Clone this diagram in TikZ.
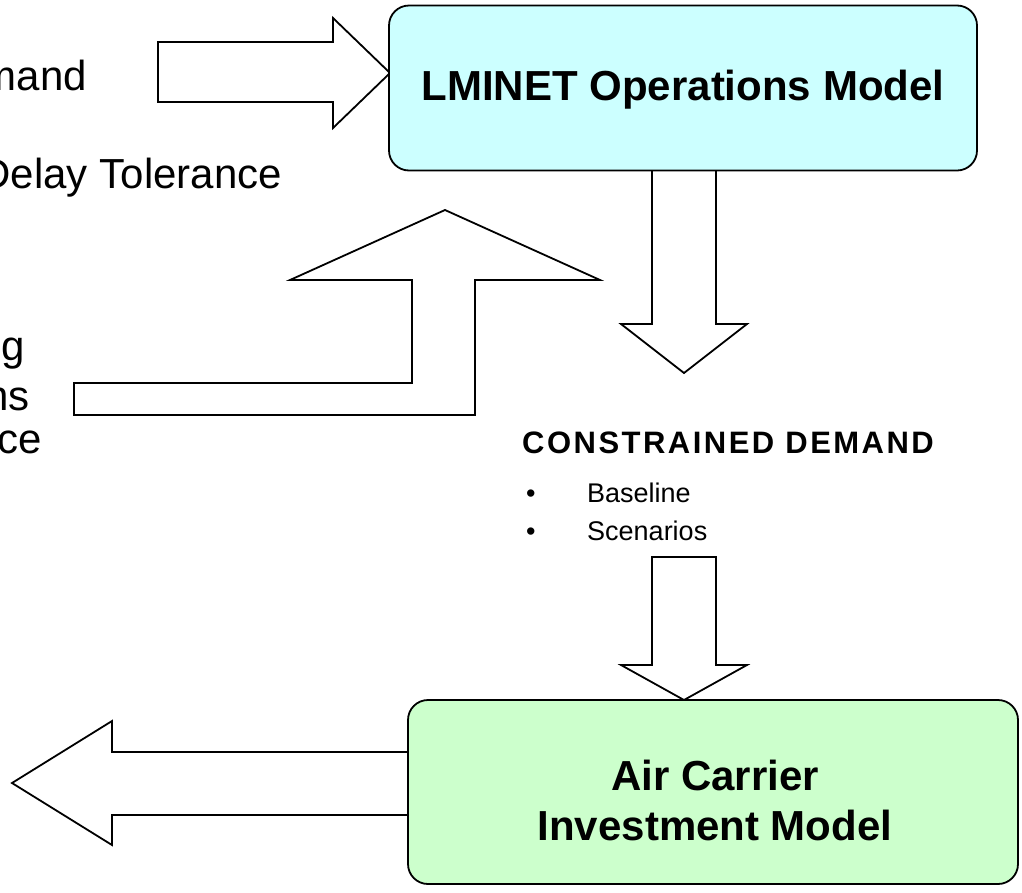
\documentclass[tikz,border=0pt]{standalone}
\usepackage{fontspec}
\setmainfont{Liberation Sans}
\newfontfamily\trackedfont[LetterSpace=8.0]{Liberation Sans}
\definecolor{opsfill}{HTML}{CCFFFF}
\definecolor{invfill}{HTML}{CCFFCC}
\tikzset{
  blockarrow/.style={draw, line width=1.8pt, fill=white, line join=miter},
  modelbox/.style={draw, line width=1.8pt, rounded corners=20pt},
  modeltext/.style={inner sep=0pt, align=center, font=\fontsize{42}{50}\selectfont\bfseries},
  cuttext/.style={inner sep=0pt, anchor=base east, font=\fontsize{42}{48}\selectfont},
  listtext/.style={inner sep=0pt, anchor=base west, font=\fontsize{27}{30}\selectfont}
}
\begin{document}
\begin{tikzpicture}[x=1pt,y=-1pt]
\useasboundingbox (0,0) rectangle (1022,892);
\clip (0,0) rectangle (1022,892);
% texts cut at the left edge
\node[cuttext] (demand) at (87,90) {mand};
\node[cuttext] (delay) at (282,188) {Delay Tolerance};
\node[cuttext] (lineg) at (25,360) {g};
\node[cuttext] (linens) at (30,410) {ns};
\node[cuttext] (linece) at (42,453) {ce};
% block arrows
\draw[blockarrow] (158,42) -- (333,42) -- (333,18) -- (390,73) -- (333,128) -- (333,102) -- (158,102) -- cycle;
\draw[blockarrow] (74,383) -- (412,383) -- (412,280) -- (290,280) -- (445,210) -- (600,280) -- (475,280) -- (475,415) -- (74,415) -- cycle;
\draw[blockarrow] (652,165) -- (652,324) -- (621,324) -- (684,373) -- (747,324) -- (716,324) -- (716,165) -- cycle;
\draw[blockarrow] (652,557) -- (652,665) -- (621,665) -- (684,700) -- (747,665) -- (716,665) -- (716,557) -- cycle;
\draw[blockarrow] (415,752) -- (112,752) -- (112,721) -- (12,783) -- (112,845) -- (112,815) -- (415,815) -- cycle;
% models
\node[modelbox, fill=opsfill, minimum width=588pt, minimum height=165pt] (lminet) at (683,88) {};
\node[modeltext] (lminettext) at (683,90) {LMINET Operations Model};
\node[modelbox, fill=invfill, minimum width=610pt, minimum height=184pt] (invest) at (713,792) {};
\node[modeltext] (investtext) at (715,800) {Air Carrier\\Investment Model};
% constrained demand
\node[listtext, font=\fontsize{31}{34}\selectfont\trackedfont\bfseries] (cdemand) at (522,453) {CONSTRAINED DEMAND};
\node[listtext] (bul1) at (526,502) {\textbullet};
\node[listtext] (base) at (587,502) {Baseline};
\node[listtext] (bul2) at (526,540) {\textbullet};
\node[listtext] (scen) at (587,540) {Scenarios};
\end{tikzpicture}
\end{document}
